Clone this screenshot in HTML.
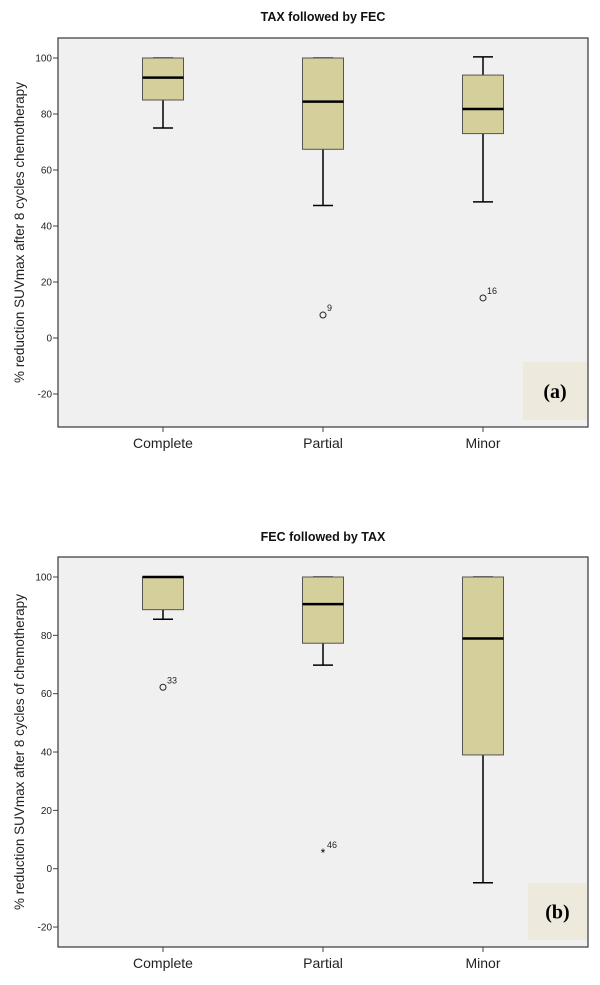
<!DOCTYPE html>
<html><head><meta charset="utf-8"><style>
body{margin:0;background:#fff;width:600px;height:985px;overflow:hidden}
svg{display:block;font-family:"Liberation Sans",Arial,sans-serif}
</style></head><body>
<svg id="chart" width="600" height="985" viewBox="0 0 600 985"></svg>
<script>
const categories = ["Complete","Partial","Minor"];
const ticks = [100,80,60,40,20,0,-20];
// panel a: [whiskerLow, q1, median, q3, whiskerHigh]
const statsA = [[75,85,93,100,100],[47.3,67.4,84.4,100,100],[48.6,73,81.8,93.9,100.4]];
const outliersA = [{c:1,v:8.2,label:"9",star:false},{c:2,v:14.3,label:"16",star:false}];
const statsB = [[85.5,88.8,100,100,100],[69.8,77.3,90.7,100,100],[-4.8,39,78.9,100,100]];
const outliersB = [{c:0,v:62.2,label:"33",star:false},{c:1,v:5.8,label:"46",star:true}];

const svg = document.getElementById('chart');
const NS = "http://www.w3.org/2000/svg";
function mk(tag, attrs, parent){const e=document.createElementNS(NS,tag);for(const k in attrs)e.setAttribute(k,attrs[k]);(parent||svg).appendChild(e);return e;}
const xCenters = [163,323,483];

function panel(cfg){
  const g = mk('g',{});
  
  
  const y = v => cfg.y0 - v*cfg.k;
  const bg = mk('rect',{x:58,y:cfg.top,width:530,height:cfg.bottom-cfg.top,fill:'#f0f0f0',stroke:'#444','stroke-width':1.3},g);
  
  
  const lab = mk('rect',{x:cfg.lx,y:cfg.ly,width:587-cfg.lx,height:cfg.lh,fill:'#ede9dc'},g);
  
  
  const lt = mk('text',{x:(cfg.lx+587)/2,y:cfg.ly+cfg.lh/2+7,'text-anchor':'middle','font-family':'"Liberation Serif",serif','font-weight':'bold','font-size':20},g);
  lt.textContent = cfg.label;
  
  
  const t = mk('text',{x:323,y:cfg.titleY,'text-anchor':'middle','font-weight':'bold','font-size':12.5,fill:'#111'},g);
  t.textContent = cfg.title;
  
  
  ticks.forEach(v=>{
    mk('line',{x1:53,x2:58,y1:y(v),y2:y(v),stroke:'#444'},g);
    const tt = mk('text',{x:52,y:y(v)+3.5,'text-anchor':'end','font-size':10,fill:'#222'},g);
    tt.textContent = v;
    
    
  });
  const yt = mk('text',{transform:`translate(24,${(cfg.top+cfg.bottom)/2}) rotate(-90)`,'text-anchor':'middle','font-size':13.5,fill:'#222'},g);
  yt.textContent = cfg.ytitle;
  
  
  categories.forEach((c,i)=>{
    const cx = xCenters[i];
    mk('line',{x1:cx,x2:cx,y1:cfg.bottom,y2:cfg.bottom+5,stroke:'#444'},g);
    const xl = mk('text',{x:cx,y:cfg.bottom+21,'text-anchor':'middle','font-size':14,fill:'#222'},g);
    xl.textContent = c;
    
    
    const s = cfg.stats[i];
    const bx = mk('g',{},g);
    
    
    mk('line',{x1:cx,x2:cx,y1:y(s[0]),y2:y(s[1]),stroke:'#000','stroke-width':1.5},bx);
    mk('line',{x1:cx,x2:cx,y1:y(s[4]),y2:y(s[3]),stroke:'#000','stroke-width':1.5},bx);
    mk('line',{x1:cx-10,x2:cx+10,y1:y(s[0]),y2:y(s[0]),stroke:'#000','stroke-width':1.5},bx);
    mk('line',{x1:cx-10,x2:cx+10,y1:y(s[4]),y2:y(s[4]),stroke:'#000','stroke-width':1.5},bx);
    mk('rect',{x:cx-20.5,y:y(s[3]),width:41,height:y(s[1])-y(s[3]),fill:'#d4cf9b',stroke:'#555','stroke-width':1},bx);
    mk('line',{x1:cx-20.5,x2:cx+20.5,y1:y(s[2]),y2:y(s[2]),stroke:'#000','stroke-width':2.5},bx);
  });
  cfg.outliers.forEach(o=>{
    const cx = xCenters[o.c], cy = y(o.v);
    let m;
    if(o.star){ m = mk('text',{x:cx,y:cy+5,'text-anchor':'middle','font-size':12,fill:'#000'},g); m.textContent='*'; }
    else m = mk('circle',{cx:cx,cy:cy,r:3,fill:'none',stroke:'#222','stroke-width':1},g);
    
    
    const ol = mk('text',{x:cx+4,y:cy-4,'font-size':9,fill:'#222'},g);
    ol.textContent = o.label;
    
    
  });
}
panel({name:'panel-a',top:38,bottom:427,y0:338,k:2.8,title:'TAX followed by FEC',titleY:21,
  ytitle:'% reduction SUVmax after 8 cycles chemotherapy',stats:statsA,outliers:outliersA,label:'(a)',lx:523,ly:362,lh:58});
panel({name:'panel-b',top:557,bottom:947,y0:868.7,k:2.917,title:'FEC followed by TAX',titleY:541,
  ytitle:'% reduction SUVmax after 8 cycles of chemotherapy',stats:statsB,outliers:outliersB,label:'(b)',lx:528,ly:883,lh:57});
</script>
</body></html>
